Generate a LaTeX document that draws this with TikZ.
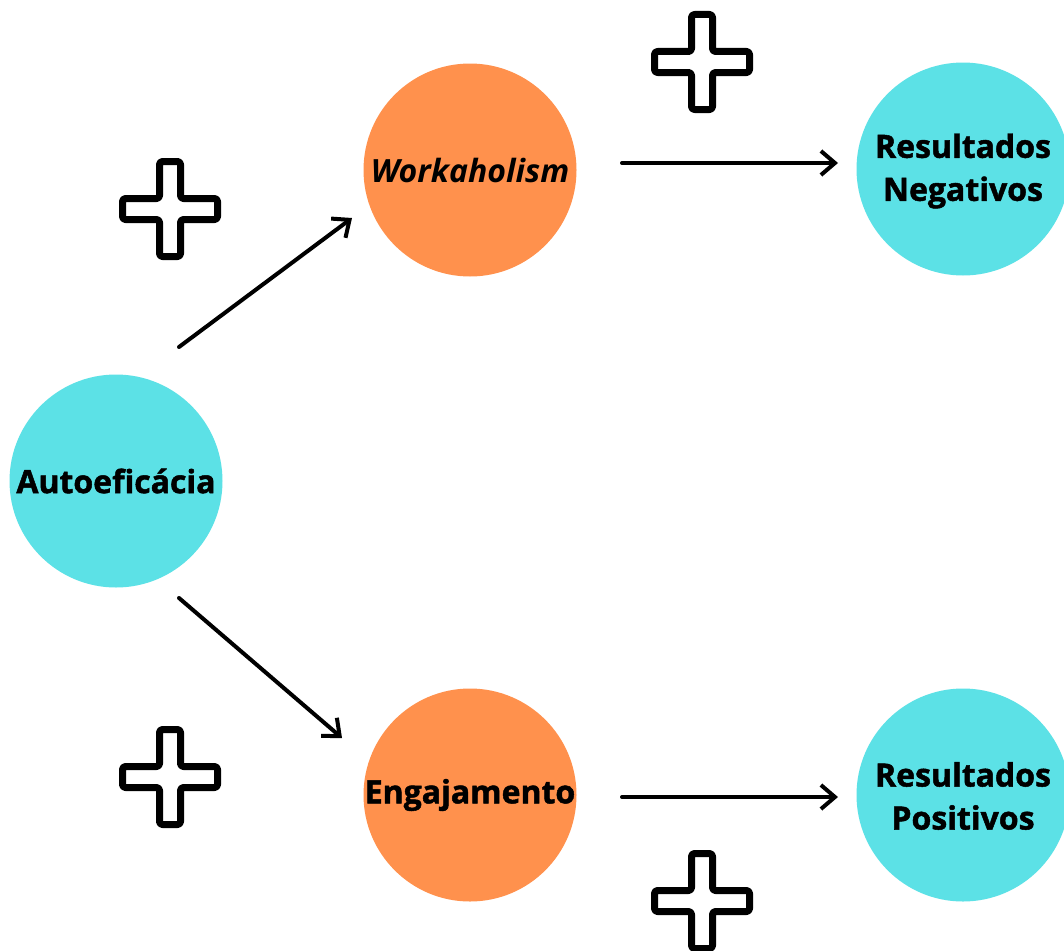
\documentclass[tikz,border=0pt]{standalone}
\usepackage{fontspec}
\setmainfont{Open Sans}[BoldFeatures={FakeBold=1.5}]
\usetikzlibrary{arrows.meta}
\definecolor{cyanc}{HTML}{5CE1E6}
\definecolor{orangec}{HTML}{FF914D}
\tikzset{
  blob/.style={circle, minimum size=213pt, inner sep=0pt, draw=none},
  cyanblob/.style={blob, fill=cyanc},
  orangeblob/.style={blob, fill=orangec},
  lbl/.style={font=\fontsize{32}{43}\selectfont\bfseries, align=center, inner sep=0pt},
  arr/.style={line width=4pt, line cap=round, -{Straight Barb[length=14pt,width=24pt,line width=4pt]}},
  plusmark/.style={line width=7pt, rounded corners=3pt, line join=round}
}
\newcommand{\plusat}[2]{%
  \draw[plusmark] (#1-10.5,#2-47.5) -- (#1+10.5,#2-47.5) -- (#1+10.5,#2-10.5) -- (#1+47.5,#2-10.5)
    -- (#1+47.5,#2+10.5) -- (#1+10.5,#2+10.5) -- (#1+10.5,#2+47.5) -- (#1-10.5,#2+47.5)
    -- (#1-10.5,#2+10.5) -- (#1-47.5,#2+10.5) -- (#1-47.5,#2-10.5) -- (#1-10.5,#2-10.5) -- cycle;}
\begin{document}
\begin{tikzpicture}[x=1pt,y=-1pt]
\useasboundingbox (0,0) rectangle (1064,950);
\fill[white] (0,0) rectangle (1064,950);
\node[cyanblob] (a) at (116,481) {};
\node[lbl] (at) at (a.center) {Autoeficácia};
\node[orangeblob] (w) at (470,170) {};
\node[lbl] (wt) at (w.center) {\itshape Workaholism};
\node[orangeblob] (e) at (470,795) {};
\node[lbl] (et) at (e.center) {Engajamento};
\node[cyanblob] (n) at (963,169) {};
\node[lbl] (nt) at ([yshift=-2pt]n.center) {Resultados\\Negativos};
\node[cyanblob] (p) at (963,795) {};
\node[lbl] (pt) at ([yshift=-1pt]p.center) {Resultados\\Positivos};
\draw[arr] ([shift={(63,-134)}]a.center) -- ([shift={(-118,48)}]w.center);
\draw[arr] ([shift={(63,117)}]a.center) -- ([shift={(-128,-57)}]e.center);
\draw[arr] ([shift={(152,-7)}]w.center) -- ([shift={(-125,-6)}]n.center);
\draw[arr] ([shift={(152,2)}]e.center) -- ([shift={(-125,2)}]p.center);
\plusat{170}{209}
\plusat{702}{62}
\plusat{170}{777}
\plusat{702}{901}
\end{tikzpicture}
\end{document}
